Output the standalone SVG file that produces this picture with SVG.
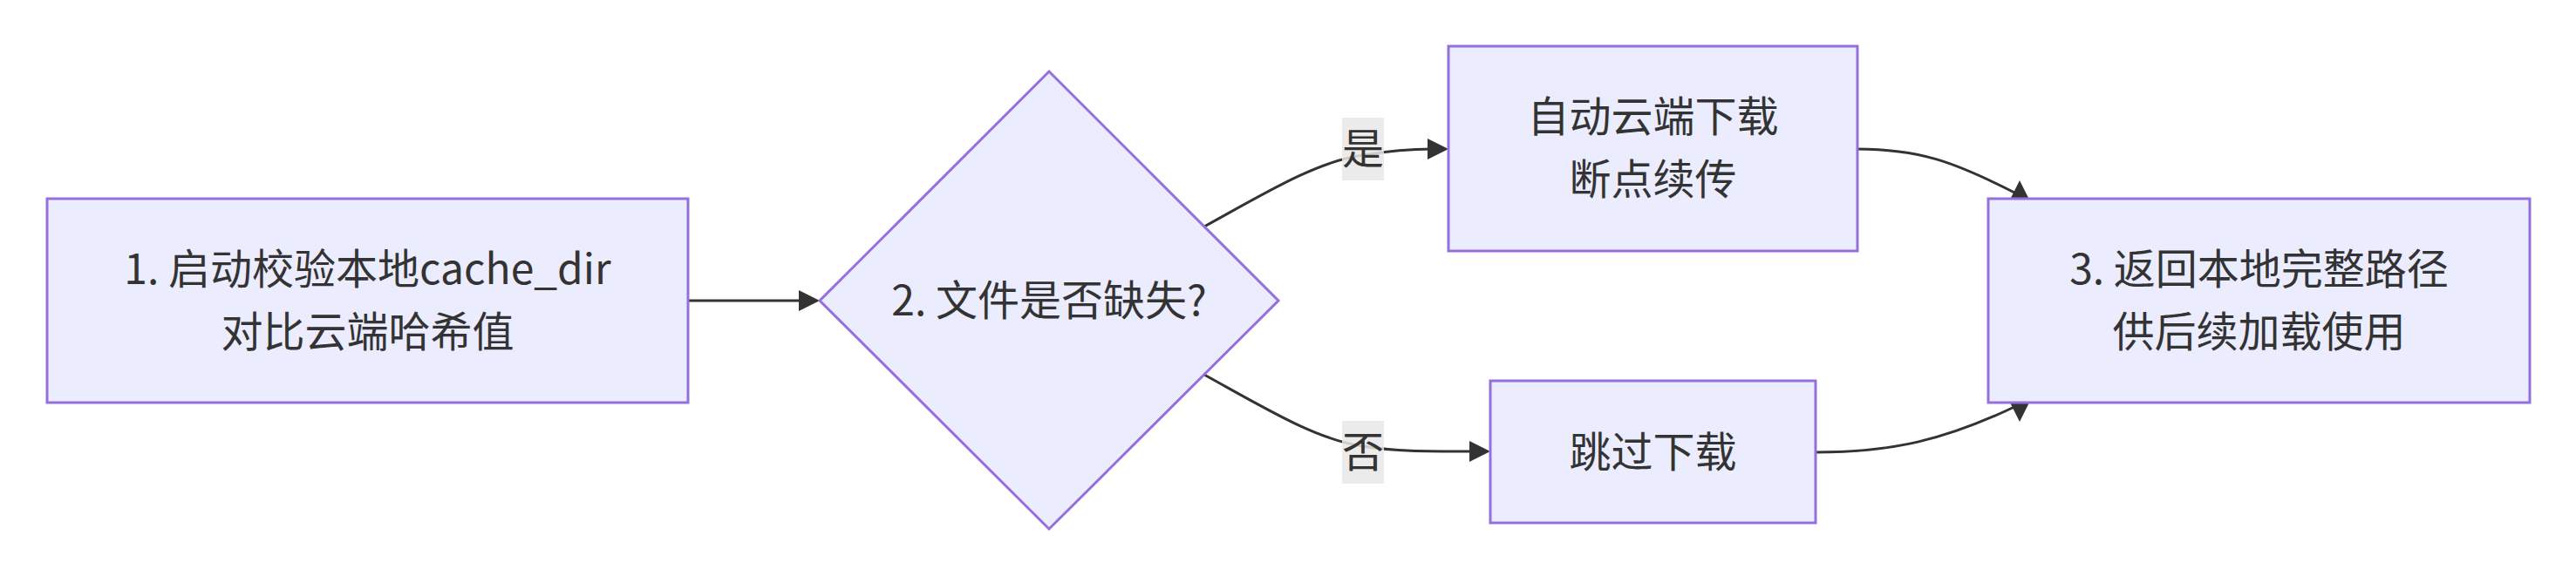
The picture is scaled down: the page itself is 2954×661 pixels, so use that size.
<svg xmlns="http://www.w3.org/2000/svg" xmlns:xlink="http://www.w3.org/1999/xlink" width="2954" height="661" viewBox="0 0 2954 661">
<style>
.node{fill:#ECECFF;stroke:#9370DB;stroke-width:3}
.edge{fill:none;stroke:#333333;stroke-width:3}
.ah{fill:#333333;stroke:none}
.t{font-family:"Noto Sans CJK SC","Noto Sans",sans-serif;font-size:48px;fill:#333333;text-anchor:middle;dominant-baseline:central}
.lbg{fill:#E8E8E8;fill-opacity:0.85}
</style>
<defs>
<path id="arrow" class="ah" d="M0,0 L-24,-12 L-24,12 z"/>
</defs>
<rect width="2954" height="661" fill="#FFFFFF"/>
<g id="connectors">
<path class="edge" d="M789,345 L920,345"/>
<use xlink:href="#arrow" href="#arrow" transform="translate(940,345)"/>
<path class="edge" d="M1381,260 C1450,222 1510,185 1563,178 C1600,172 1630,171 1642,171"/>
<use xlink:href="#arrow" href="#arrow" transform="translate(1661,171)"/>
<path class="edge" d="M1381,430 C1450,468 1510,505 1563,512 C1600,518 1630,518 1690,518"/>
<use xlink:href="#arrow" href="#arrow" transform="translate(1709,518)"/>
<path class="edge" d="M2129,171 C2200,171 2240,185 2312,222"/>
<use xlink:href="#arrow" href="#arrow" transform="translate(2316,207) rotate(-90)"/>
<path class="edge" d="M2082,519 C2170,519 2230,505 2312,466"/>
<use xlink:href="#arrow" href="#arrow" transform="translate(2316,484) rotate(90)"/>
<g id="label-yes">
<rect class="lbg" x="1539" y="135" width="48" height="72"/>
<text class="t" x="1563" y="167">是</text>
</g>
<g id="label-no">
<rect class="lbg" x="1539" y="483" width="48" height="72"/>
<text class="t" x="1563" y="515">否</text>
</g>
</g>
<g id="node-start">
<rect class="node" x="54" y="228" width="735" height="234"/>
<text class="t" x="421.5" y="305">1. 启动校验本地cache_dir</text>
<text class="t" x="421.5" y="377">对比云端哈希值</text>
</g>
<g id="node-check">
<polygon class="node" points="1203,82 1466,345 1203,607 940,345"/>
<text class="t" x="1203" y="341">2. 文件是否缺失?</text>
</g>
<g id="node-download">
<rect class="node" x="1661" y="53" width="469" height="235"/>
<text class="t" x="1895.5" y="130">自动云端下载</text>
<text class="t" x="1895.5" y="202">断点续传</text>
</g>
<g id="node-skip">
<rect class="node" x="1709" y="437" width="373" height="163"/>
<text class="t" x="1895.5" y="514.5">跳过下载</text>
</g>
<g id="node-return">
<rect class="node" x="2280" y="228" width="621" height="234"/>
<text class="t" x="2590.5" y="305">3. 返回本地完整路径</text>
<text class="t" x="2590.5" y="377">供后续加载使用</text>
</g>
</svg>
